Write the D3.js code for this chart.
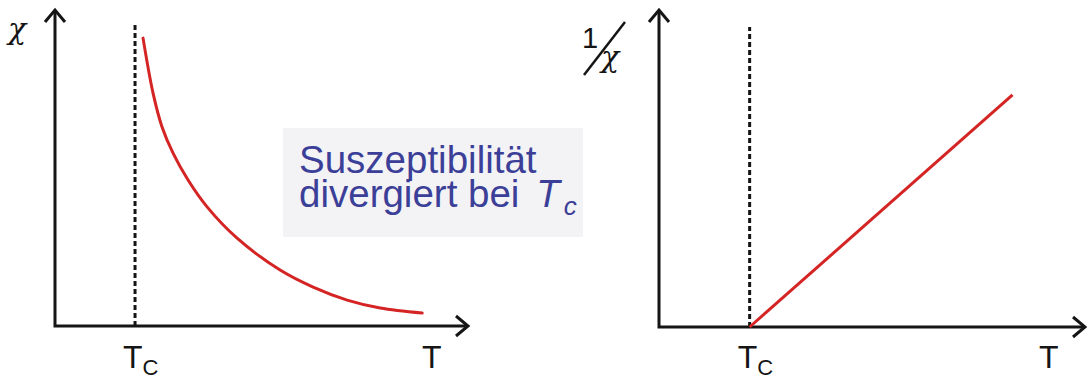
<!DOCTYPE html>
<html>
<head>
<meta charset="utf-8">
<script src="https://cdn.jsdelivr.net/npm/d3@7"></script>
<style>
  body { margin: 0; background: #fff; }
  svg { display: block; }
</style>
</head>
<body>
<div id="chart"></div>
<script>
// Suszeptibilität chi(T) und 1/chi(T), beide mit T_C markiert
var tc = 1;

// chi ueber T (links)
var chi_t = [1.10, 1.225, 1.3375, 1.475, 1.6625, 1.90, 2.275, 2.8125, 3.225, 3.65, 4.0625, 4.5875];
var chi_v = [9.11, 7.37, 6.30, 5.47, 4.62, 3.77, 2.78, 1.77, 1.23, 0.82, 0.57, 0.41];

// 1/chi ueber T (rechts)
var inv_t = [1.0, 3.9];
var inv_v = [0.0, 7.32];

var dash_top_left = 9.53;
var dash_top_right = 9.46;

var label_x = "T";
var label_tc = ["T", "C"];
var box_lines = ["Suszeptibilität", "divergiert bei "];

var width = 1087, height = 379;

var svg = d3.select("#chart")
    .append("svg")
    .attr("width", width)
    .attr("height", height);

var ink = "#151515";
var red = "#d42424";
var blue = "#3c3f98";

// linke Skalen
var lx = d3.scaleLinear().domain([0, 5.16]).range([55, 468]);
var ly = d3.scaleLinear().domain([0, 10]).range([326, 10]);
// rechte Skalen
var rx = d3.scaleLinear().domain([0, 4.7]).range([659, 1085]);
var ry = d3.scaleLinear().domain([0, 10]).range([327, 10]);

function draw_axes(x, y) {
    var x0 = x.range()[0], x1 = x.range()[1];
    var y0 = y.range()[0], y1 = y.range()[1];
    var g = svg.append("g")
        .attr("fill", "none")
        .attr("stroke", ink)
        .attr("stroke-width", 3);
    g.append("path")
        .attr("d", "M" + x0 + "," + y1 + "V" + y0 + "H" + x1)
        .attr("stroke-linejoin", "miter");
    // Pfeilspitzen
    g.append("path")
        .attr("d", "M" + (x0 - 10) + "," + (y1 + 12) + "L" + x0 + "," + y1 + "L" + (x0 + 10) + "," + (y1 + 12))
        .attr("stroke-linejoin", "miter");
    g.append("path")
        .attr("d", "M" + (x1 - 12) + "," + (y0 - 10) + "L" + x1 + "," + y0 + "L" + (x1 - 12) + "," + (y0 + 10))
        .attr("stroke-linejoin", "miter");
}

function draw_dash(x, y, top) {
    svg.append("line")
        .attr("x1", x(tc)).attr("x2", x(tc))
        .attr("y1", y(0)).attr("y2", y(top))
        .attr("stroke", ink)
        .attr("stroke-width", 3)
        .attr("stroke-dasharray", "5,3");
}

function draw_labels(x, y) {
    var g = svg.append("g")
        .attr("font-family", "'Liberation Sans', Arial, sans-serif")
        .attr("fill", ink);
    var t = g.append("text")
        .attr("x", x(tc) - 12)
        .attr("y", 368)
        .attr("font-size", 32);
    t.append("tspan").text(label_tc[0]);
    t.append("tspan").attr("font-size", 22).attr("dy", 7).text(label_tc[1]);
    g.append("text")
        .attr("x", x.range()[1] - 46)
        .attr("y", 368)
        .attr("font-size", 32)
        .text(label_x);
}

draw_dash(lx, ly, dash_top_left);
draw_dash(rx, ry, dash_top_right);
draw_axes(lx, ly);
draw_axes(rx, ry);
draw_labels(lx, ly);
draw_labels(rx, ry);

// chi Kurve
var chi_data = chi_t.map(function (t, i) { return [t, chi_v[i]]; });
svg.append("path")
    .datum(chi_data)
    .attr("fill", "none")
    .attr("stroke", red)
    .attr("stroke-width", 3)
    .attr("stroke-linecap", "round")
    .attr("d", d3.line()
        .x(function (d) { return lx(d[0]); })
        .y(function (d) { return ly(d[1]); })
        .curve(d3.curveCatmullRom.alpha(0.5)));

// 1/chi Gerade
var inv_data = inv_t.map(function (t, i) { return [t, inv_v[i]]; });
svg.append("path")
    .datum(inv_data)
    .attr("fill", "none")
    .attr("stroke", red)
    .attr("stroke-width", 3)
    .attr("d", d3.line()
        .x(function (d) { return rx(d[0]); })
        .y(function (d) { return ry(d[1]); }));

// Achsenbeschriftungen chi und 1/chi
svg.append("text")
    .attr("x", 8)
    .attr("y", 39)
    .attr("font-family", "'DejaVu Serif', serif")
    .attr("font-style", "italic")
    .attr("font-size", 30)
    .attr("fill", ink)
    .text("χ");

var inv_lab = svg.append("g")
    .attr("fill", ink);
inv_lab.append("text")
    .attr("x", 582)
    .attr("y", 48)
    .attr("font-family", "'Liberation Sans', Arial, sans-serif")
    .attr("font-size", 29)
    .text("1");
inv_lab.append("line")
    .attr("x1", 584).attr("y1", 75)
    .attr("x2", 625).attr("y2", 22)
    .attr("stroke", ink)
    .attr("stroke-width", 2.5);
inv_lab.append("text")
    .attr("x", 601)
    .attr("y", 67)
    .attr("font-family", "'DejaVu Serif', serif")
    .attr("font-style", "italic")
    .attr("font-size", 30)
    .text("χ");

// Textkasten
svg.append("rect")
    .attr("x", 283).attr("y", 128)
    .attr("width", 300).attr("height", 109)
    .attr("fill", "#f3f3f6");

var box = svg.append("g")
    .attr("font-family", "'Liberation Sans', Arial, sans-serif")
    .attr("font-size", 38.5)
    .attr("fill", blue);
box.append("text")
    .attr("x", 299).attr("y", 173)
    .text(box_lines[0]);
var l2 = box.append("text")
    .attr("x", 299).attr("y", 207);
l2.append("tspan").text(box_lines[1]);
l2.append("tspan").attr("font-style", "italic").attr("dx", 6).text("T");
l2.append("tspan").attr("font-style", "italic").attr("font-size", 26).attr("dy", 8).attr("dx", 4).text("c");
</script>
</body>
</html>
